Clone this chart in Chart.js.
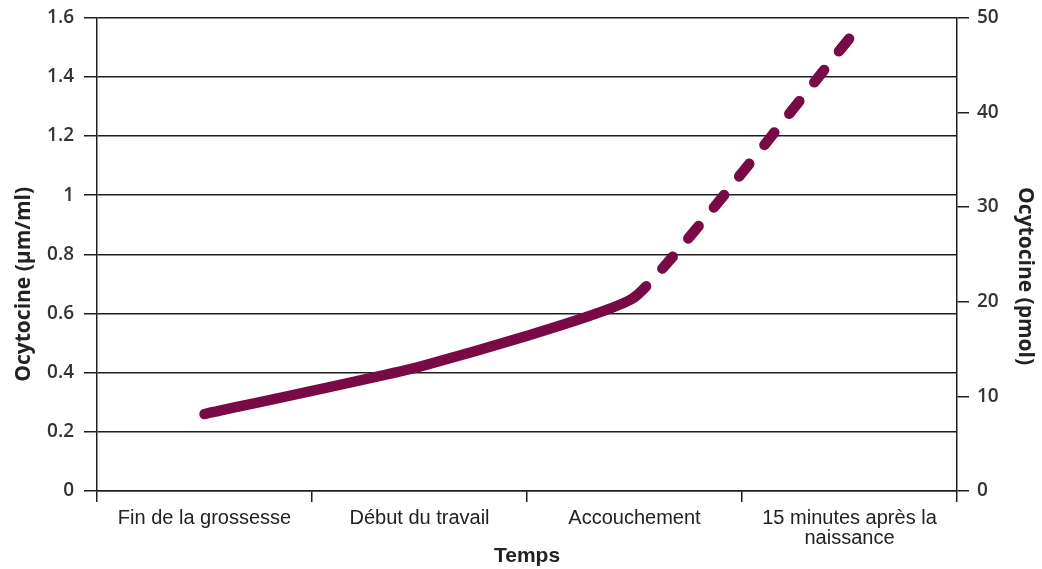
<!DOCTYPE html>
<html>
<head>
<meta charset="utf-8">
<script src="https://cdn.jsdelivr.net/npm/chart.js@4"></script>
<style>
  html, body { margin: 0; padding: 0; background: #fff; }
  #wrap { width: 1042px; height: 569px; }
</style>
</head>
<body>
<div id="wrap"><canvas id="chart" width="1042" height="569"></canvas></div>
<script>
const categories = ['Fin de la grossesse', 'Début du travail', 'Accouchement', ['15 minutes après la', 'naissance']];
const ocytocine = [0.26, 0.42, 0.655, 1.53];
const leftMax = 1.6;
const rightMax = 50;

const lineColor = '#7a0a46';
const axisColor = '#1e1e1e';

// titles sit a bit below the middle of the axis in the original, padded with spaces
const leftTitle = 'Ocytocine (µm/ml)' + ' '.repeat(11);
const rightTitle = ' '.repeat(8) + 'Ocytocine (pmol)';

new Chart(document.getElementById('chart').getContext('2d'), {
  type: 'line',
  data: {
    labels: categories,
    datasets: [{
      data: ocytocine,
      yAxisID: 'y',
      borderColor: lineColor,
      borderWidth: 10.5,
      borderCapStyle: 'round',
      borderJoinStyle: 'round',
      tension: 0.12,
      pointRadius: 0,
      fill: false,
      segment: {
        borderDash: ctx => ctx.p0DataIndex === 2 ? [16, 24] : undefined
      }
    }]
  },
  options: {
    responsive: false,
    animation: false,
    layout: { padding: { top: 17, left: 0, right: 0, bottom: 0 } },
    plugins: { legend: { display: false }, tooltip: { enabled: false } },
    scales: {
      x: {
        offset: true,
        grid: { offset: true, drawOnChartArea: false, drawTicks: true, tickLength: 11, color: axisColor, lineWidth: 1.5 },
        border: { color: axisColor, width: 1.5 },
        ticks: { color: '#222', padding: 7, maxRotation: 0, font: { family: 'Liberation Sans', size: 20, lineHeight: 0.98 } },
        title: { display: true, text: 'Temps', color: '#222', padding: { top: 0, bottom: 0 }, font: { family: 'Liberation Sans', size: 21, weight: 'bold' } },
        afterFit: s => { s.height = 78; }
      },
      y: {
        position: 'left',
        min: 0, max: leftMax,
        grid: { color: axisColor, lineWidth: 1.5, tickLength: 13 },
        border: { color: axisColor, width: 1.5 },
        ticks: { stepSize: 0.2, color: '#333', padding: 10, font: { family: 'Open Sans', size: 19, weight: '600', lineHeight: 0.8 }, callback: v => String(+v.toFixed(1)) },
        title: { display: true, text: leftTitle, color: '#222', padding: { top: 11, bottom: 4 }, font: { family: 'Open Sans', size: 21, weight: 'bold' } },
        afterFit: s => { s.width = 97; }
      },
      y2: {
        position: 'right',
        min: 0, max: rightMax,
        grid: { drawOnChartArea: false, color: axisColor, lineWidth: 1.5, tickLength: 12 },
        border: { color: axisColor, width: 1.5 },
        ticks: { stepSize: 10, color: '#333', padding: 8, font: { family: 'Open Sans', size: 19, weight: '600', lineHeight: 0.8 } },
        title: { display: true, text: rightTitle, color: '#222', padding: { top: 4, bottom: 4 }, font: { family: 'Open Sans', size: 21, weight: 'bold' } },
        afterFit: s => { s.width = 85; }
      }
    }
  }
});
</script>
</body>
</html>
